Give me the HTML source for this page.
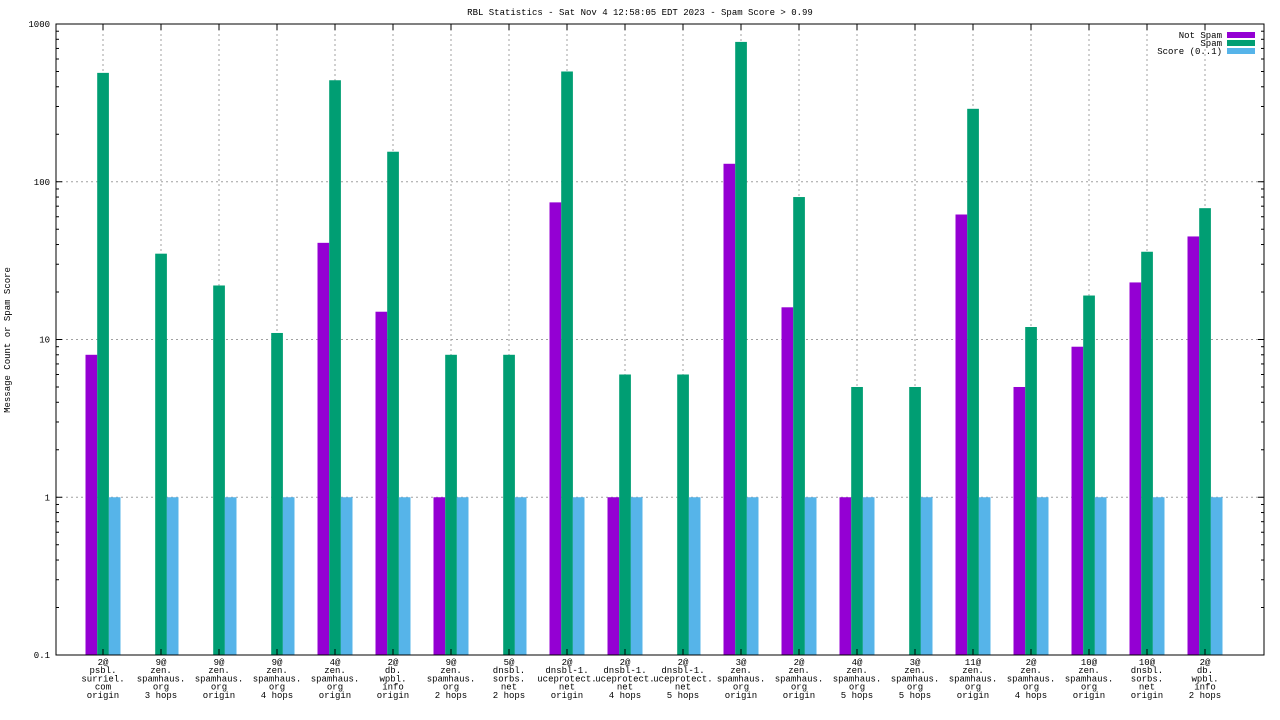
<!DOCTYPE html>
<html><head><meta charset="utf-8"><style>
body{margin:0;background:#fff;}
svg{display:block;font-family:"Liberation Mono","DejaVu Sans Mono",monospace;font-size:9px;}
</style></head><body>
<svg id="chart" width="1280" height="720" xmlns="http://www.w3.org/2000/svg">
<text x="640" y="15" text-anchor="middle">RBL Statistics - Sat Nov  4 12:58:05 EDT 2023 - Spam Score &gt; 0.99</text>
<text transform="translate(10,340) rotate(-90)" text-anchor="middle">Message Count or Spam Score</text>
<g id="grid"></g><g id="bars"></g><g id="axes"></g><g id="labels"></g>
<g>
<text x="1222" y="38" text-anchor="end">Not Spam</text>
<rect x="1227" y="32" width="28" height="6" fill="#9400d3"/>
<text x="1222" y="46" text-anchor="end">Spam</text>
<rect x="1227" y="40" width="28" height="6" fill="#009e73"/>
<text x="1222" y="54" text-anchor="end">Score (0..1)</text>
<rect x="1227" y="48" width="28" height="6" fill="#56b4e9"/>
</g>
</svg>
<script>
const categories=[
["2@","psbl.","surriel.","com","origin"],["9@","zen.","spamhaus.","org","3 hops"],["9@","zen.","spamhaus.","org","origin"],["9@","zen.","spamhaus.","org","4 hops"],["4@","zen.","spamhaus.","org","origin"],["2@","db.","wpbl.","info","origin"],["9@","zen.","spamhaus.","org","2 hops"],["5@","dnsbl.","sorbs.","net","2 hops"],["2@","dnsbl-1.","uceprotect.","net","origin"],["2@","dnsbl-1.","uceprotect.","net","4 hops"],["2@","dnsbl-1.","uceprotect.","net","5 hops"],["3@","zen.","spamhaus.","org","origin"],["2@","zen.","spamhaus.","org","origin"],["4@","zen.","spamhaus.","org","5 hops"],["3@","zen.","spamhaus.","org","5 hops"],["11@","zen.","spamhaus.","org","origin"],["2@","zen.","spamhaus.","org","4 hops"],["10@","zen.","spamhaus.","org","origin"],["10@","dnsbl.","sorbs.","net","origin"],["2@","db.","wpbl.","info","2 hops"]];
const notSpam=[8,0,0,0,41,15,1,0,74,1,0,130,16,1,0,62,5,9,23,45];
const spam=[490,35,22,11,440,155,8,8,500,6,6,770,80,5,5,290,12,19,36,68];
const score=[1,1,1,1,1,1,1,1,1,1,1,1,1,1,1,1,1,1,1,1];
const yTicks=[0.1,1,10,100,1000];
const yTickLabels=["0.1","1","10","100","1000"];
const L=56,R=1264,T=24,B=655;
function yScale(v){return B-(Math.log10(v)+1)/4*(B-T);}
function xScale(i){return 103+58*i;}
const NS="http://www.w3.org/2000/svg";
function mk(tag,attrs,parent){const e=document.createElementNS(NS,tag);for(const k in attrs)e.setAttribute(k,attrs[k]);document.getElementById(parent).appendChild(e);return e;}
yTicks.forEach((v,k)=>{const y=yScale(v);
 if(k>0&&k<yTicks.length-1){const g=mk('line',{x1:L,x2:R,y1:y,y2:y,stroke:'#a0a0a0','stroke-dasharray':'2,3','stroke-width':1},'grid');
 
 }
 const t=mk('text',{x:L-6,y:y+3,'text-anchor':'end'},'axes');t.textContent=yTickLabels[k];
 
 
 mk('line',{x1:L,x2:L+6,y1:y,y2:y,stroke:'#000'},'axes');mk('line',{x1:R,x2:R-6,y1:y,y2:y,stroke:'#000'},'axes');
 if(k<yTicks.length-1)for(let m=2;m<10;m++){const ym=yScale(v*m);mk('line',{x1:L,x2:L+3,y1:ym,y2:ym,stroke:'#000'},'axes');mk('line',{x1:R,x2:R-3,y1:ym,y2:ym,stroke:'#000'},'axes');}
});
categories.forEach((c,i)=>{const x=xScale(i);
 const g=mk('line',{x1:x,x2:x,y1:T,y2:B,stroke:'#a0a0a0','stroke-dasharray':'2,3','stroke-width':1},'grid');
 
 
 mk('line',{x1:x,x2:x,y1:B,y2:B-6,stroke:'#000'},'axes');mk('line',{x1:x,x2:x,y1:T,y2:T+6,stroke:'#000'},'axes');
 const t=mk('text',{x:x,y:665,'text-anchor':'middle'},'labels');
 
 
 c.forEach((s,j)=>{const ts=document.createElementNS(NS,'tspan');ts.setAttribute('x',x);ts.setAttribute('y',665+8.2*j);ts.textContent=s;t.appendChild(ts);});
 [[notSpam,-17.5,'#9400d3','bar-not-spam'],[spam,-5.8,'#009e73','bar-spam'],[score,5.8,'#56b4e9','bar-score']].forEach(([arr,off,col,nm])=>{
  const v=arr[i];if(!(v>0))return;const y=yScale(v);
  const r=mk('rect',{x:x+off,y:y,width:11.7,height:B-y,fill:col},'bars');
  
  
 });
});
const fr=mk('rect',{x:L,y:T,width:R-L,height:B-T,fill:'none',stroke:'#000','stroke-width':1},'axes');


</script>
</body></html>
